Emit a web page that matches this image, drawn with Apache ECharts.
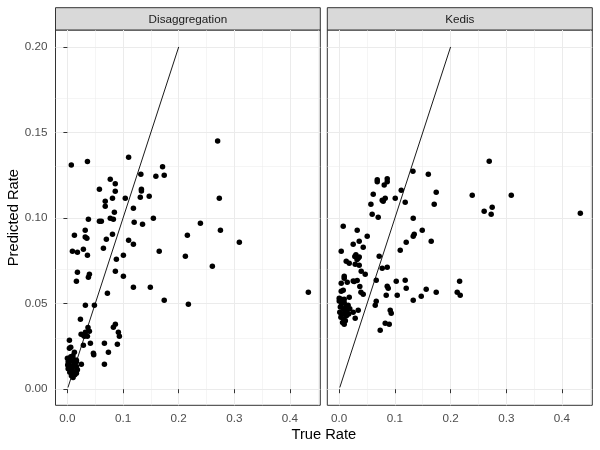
<!DOCTYPE html>
<html>
<head>
<meta charset="utf-8">
<script src="https://cdn.jsdelivr.net/npm/echarts@6/dist/echarts.min.js"></script>
<style>html,body{margin:0;padding:0;background:#fff}#chart{width:600px;height:450px}</style>
</head>
<body>
<div id="chart"></div>
<script>
const facetNames = ['Disaggregation', 'Kedis'];
const xTitle = 'True Rate';
const yTitle = 'Predicted Rate';
const xTicks = [0, 0.1, 0.2, 0.3, 0.4];
const yTicks = [0, 0.05, 0.1, 0.15, 0.2];
const xMinor = [0.05, 0.15, 0.25, 0.35, 0.45];
const yMinor = [0.025, 0.075, 0.125, 0.175];
const refLine = [[0.001, 0.001], [0.2, 0.2]];

const disaggPoints = [
  [0.270,0.145],[0.007,0.131],[0.036,0.133],[0.110,0.1355],[0.171,0.130],[0.132,0.1256],[0.159,0.1244],[0.174,0.125],
  [0.077,0.1227],[0.086,0.120],[0.0575,0.1168],[0.086,0.1157],[0.133,0.1168],[0.133,0.1158],[0.068,0.1098],[0.081,0.1116],
  [0.104,0.1116],[0.131,0.1121],[0.147,0.1127],[0.273,0.1116],[0.068,0.1069],[0.1186,0.1057],[0.0844,0.1034],[0.0377,0.0993],
  [0.0575,0.0981],[0.061,0.0981],[0.077,0.0999],[0.0826,0.0993],[0.120,0.0975],[0.135,0.0964],[0.1545,0.0999],[0.239,0.097],
  [0.275,0.0929],[0.032,0.0929],[0.0126,0.090],[0.032,0.089],[0.035,0.0882],[0.081,0.0905],[0.070,0.0876],[0.110,0.087],
  [0.1186,0.0847],[0.2156,0.090],[0.0647,0.0824],[0.009,0.0806],[0.018,0.080],[0.0287,0.0818],[0.036,0.0783],[0.165,0.0806],
  [0.212,0.0777],[0.1006,0.0783],[0.088,0.0759],[0.2605,0.0718],[0.309,0.0859],[0.433,0.0567],
  [0.018,0.0683],[0.0162,0.0631],[0.0377,0.0654],[0.0395,0.0672],[0.0862,0.0689],[0.1006,0.066],[0.1186,0.0596],[0.149,0.0596],
  [0.0719,0.0561],[0.174,0.052],[0.2174,0.0497],[0.0323,0.0491],[0.0485,0.0491],[0.0234,0.0409],[0.0826,0.0362],[0.0862,0.038],
  [0.0916,0.0333],[0.0934,0.031],[0.0898,0.0263],[0.0665,0.0269],[0.0737,0.0216],[0.0467,0.021],[0.0473,0.0202],[0.0413,0.0269],
  [0.0665,0.0146],[0.0251,0.0146],[0.0287,0.0257],[0.0246,0.0321],[0.0287,0.0315],[0.0323,0.0333],[0.0359,0.031],[0.0395,0.0339],
  [0.0305,0.031],[0.037,0.036],[0.0036,0.0286],[0.0036,0.024],[0.006,0.0245],[0.0126,0.0216],[0.0162,0.0169],
  [0.000,0.0181],[0.006,0.019],[0.010,0.0196],[0.0013,0.0161],[0.0072,0.0165],[0.0133,0.0171],[0.0005,0.0142],[0.0043,0.0138],
  [0.012,0.0146],[0.0162,0.0161],[0.0013,0.0119],[0.0085,0.0123],[0.0162,0.0132],[0.0043,0.0099],[0.0102,0.0103],[0.018,0.0113],
  [0.0072,0.0079],[0.0133,0.0084],[0.0102,0.0068],[0.0162,0.0093]
];

const kedisPoints = [
  [0.2694,0.1332],[0.1324,0.1273],[0.160,0.1256],[0.0683,0.1224],[0.0683,0.1213],[0.0862,0.123],[0.0862,0.1213],[0.0808,0.1193],
  [0.1114,0.1162],[0.1742,0.1151],[0.0611,0.1139],[0.2389,0.1133],[0.0772,0.1104],[0.0826,0.1116],[0.079,0.1098],[0.1006,0.1116],
  [0.1185,0.1092],[0.0569,0.1081],[0.1706,0.1081],[0.2747,0.1063],[0.2603,0.104],[0.2729,0.1022],[0.0592,0.1022],[0.070,0.1005],
  [0.1329,0.0999],[0.0072,0.0952],[0.0323,0.0929],[0.1491,0.0929],[0.0503,0.0894],[0.1347,0.0905],[0.1329,0.0894],[0.0359,0.0864],
  [0.1652,0.0864],[0.0251,0.0847],[0.1203,0.0859],[0.0431,0.0829],[0.0036,0.0806],[0.1096,0.0812],[0.028,0.0776],[0.030,0.0786],
  [0.034,0.0765],[0.032,0.0758],[0.036,0.0772],[0.0718,0.0777],[0.0126,0.0748],[0.018,0.0736],[0.0287,0.073],[0.0359,0.0724],
  [0.0772,0.0707],[0.0862,0.0713],[0.309,0.1133],[0.433,0.1028],
  [0.0395,0.0689],[0.0467,0.0672],[0.009,0.066],[0.009,0.0648],[0.0036,0.0619],[0.0144,0.0625],[0.0251,0.0633],[0.0323,0.0635],
  [0.0269,0.063],[0.0665,0.0637],[0.1024,0.0631],[0.1185,0.0637],[0.2162,0.0631],[0.0862,0.0602],[0.088,0.059],[0.1203,0.059],
  [0.1562,0.0584],[0.0036,0.0572],[0.0072,0.0578],[0.037,0.060],[0.039,0.0567],[0.0431,0.0555],[0.1742,0.0567],[0.2119,0.0567],
  [0.2173,0.0549],[0.0844,0.0549],[0.1042,0.0549],[0.1473,0.0543],[0.1329,0.052],[0.018,0.0537],[0.000,0.0531],[0.0036,0.0525],
  [0.009,0.0525],[0.0665,0.0514],[0.0647,0.0491],[0.0341,0.0461],[0.0251,0.045],[0.0916,0.0461],[0.0934,0.0444],[0.0287,0.0415],
  [0.0826,0.0386],[0.0898,0.038],[0.0736,0.0345],
  [0.000,0.0515],[0.004,0.050],[0.009,0.0505],[0.002,0.048],[0.007,0.047],[0.012,0.048],[0.016,0.049],[0.001,0.045],
  [0.005,0.044],[0.010,0.045],[0.014,0.046],[0.019,0.047],[0.003,0.042],[0.008,0.041],[0.013,0.043],[0.006,0.039],
  [0.011,0.040],[0.004,0.0435],[0.017,0.044],[0.009,0.038]
];

const panelData = [disaggPoints, kedisPoints];

const FONT = '"Liberation Sans", Arial, sans-serif';
const panels = [
  { left: 55.5, width: 264.8 },
  { left: 327.3, width: 265 }
];
const TOP = 30, HEIGHT = 375.3, STRIP_TOP = 7.7;

const grids = [], xAxes = [], yAxes = [], series = [], graphics = [];
panels.forEach((p, i) => {
  grids.push({ left: p.left, top: TOP, width: p.width, height: HEIGHT, containLabel: false, outerBoundsMode: 'none',
    show: true, backgroundColor: '#fff', borderColor: '#333333', borderWidth: 1 });
  xAxes.push({
    type: 'value', gridIndex: i, min: -0.0214, max: 0.4545,
    axisLine: { show: false },
    axisTick: { show: true, inside: false, length: 4, lineStyle: { color: '#333333', width: 1 }, customValues: xTicks },
    axisLabel: { show: true, customValues: xTicks, margin: 7, color: '#4D4D4D', fontSize: 11.7, fontFamily: FONT,
      formatter: v => v.toFixed(1) },
    splitLine: { show: true, lineStyle: { color: '#EBEBEB', width: 1 } }
  });
  yAxes.push({
    type: 'value', gridIndex: i, min: -0.0094, max: 0.2099,
    axisLine: { show: false },
    axisTick: { show: i === 0, inside: false, length: 4, lineStyle: { color: '#333333', width: 1 }, customValues: yTicks },
    axisLabel: { show: i === 0, customValues: yTicks, margin: 8, color: '#4D4D4D', fontSize: 11.7, fontFamily: FONT,
      formatter: v => v.toFixed(2) },
    splitLine: { show: true, lineStyle: { color: '#EBEBEB', width: 1 } }
  });
  series.push({
    type: 'line', xAxisIndex: i, yAxisIndex: i, data: [], showSymbol: false, symbol: 'none', z: 1, silent: true,
    markLine: {
      silent: true, symbol: ['none', 'none'], z: 1, label: { show: false }, animation: false,
      lineStyle: { color: '#EBEBEB', width: 0.5, type: 'solid' },
      emphasis: { disabled: true },
      data: xMinor.map(v => ({ xAxis: v })).concat(yMinor.map(v => ({ yAxis: v })))
    }
  });
  series.push({
    type: 'scatter', xAxisIndex: i, yAxisIndex: i, data: panelData[i], symbol: 'circle', symbolSize: 5.5,
    itemStyle: { color: '#000', opacity: 1 }, z: 3, silent: true
  });
  series.push({
    type: 'line', xAxisIndex: i, yAxisIndex: i, data: refLine, showSymbol: false, symbol: 'none',
    lineStyle: { color: '#000', width: 0.9 }, z: 4, silent: true
  });
  graphics.push({ type: 'rect', shape: { x: p.left, y: STRIP_TOP, width: p.width, height: TOP - STRIP_TOP },
    style: { fill: '#D9D9D9', stroke: '#333333', lineWidth: 1 } });
  graphics.push({ type: 'text', x: p.left + p.width / 2, y: (STRIP_TOP + TOP) / 2 + 0.5,
    style: { text: facetNames[i], fill: '#1A1A1A', font: '11.7px ' + FONT, align: 'center', verticalAlign: 'middle' } });
});
graphics.push({ type: 'text', x: (55.5 + 592.3) / 2, y: 434.5,
  style: { text: xTitle, fill: '#000', font: '14.7px ' + FONT, align: 'center', verticalAlign: 'middle' } });
graphics.push({ type: 'text', x: 14, y: TOP + HEIGHT / 2, rotation: Math.PI / 2,
  style: { text: yTitle, fill: '#000', font: '14.7px ' + FONT, align: 'center', verticalAlign: 'middle' } });

const chart = echarts.init(document.getElementById('chart'), null, { renderer: 'canvas' });
chart.setOption({
  animation: false,
  backgroundColor: '#fff',
  grid: grids, xAxis: xAxes, yAxis: yAxes, series: series, graphic: graphics
});
</script>
</body>
</html>
